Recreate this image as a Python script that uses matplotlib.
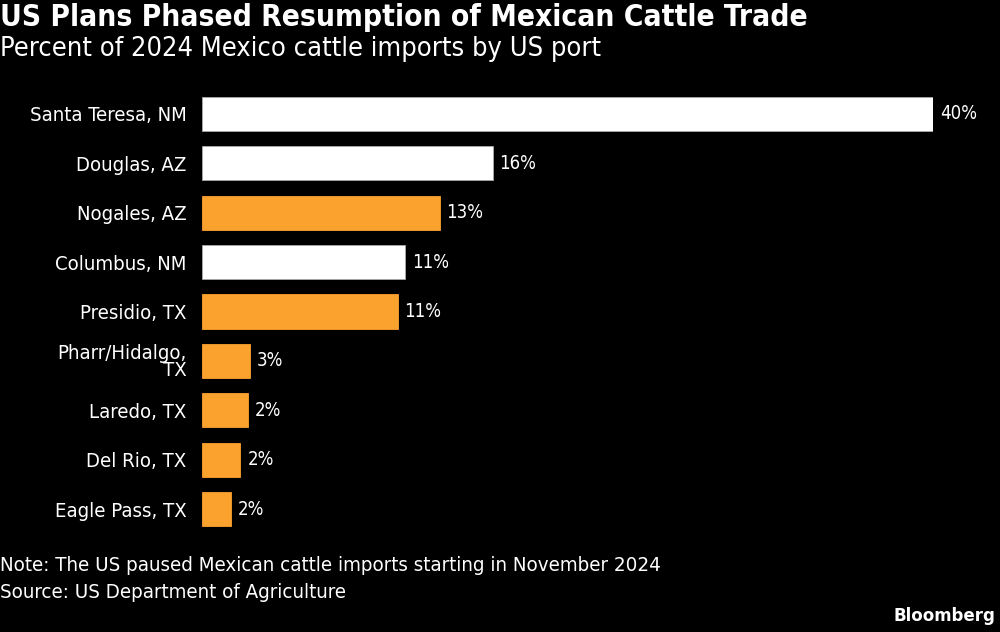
import matplotlib
matplotlib.use("Agg")
import matplotlib.pyplot as plt

categories = ["Santa Teresa, NM", "Douglas, AZ", "Nogales, AZ", "Columbus, NM",
              "Presidio, TX", "Pharr/Hidalgo,\nTX", "Laredo, TX", "Del Rio, TX", "Eagle Pass, TX"]
values = [40.0, 15.9, 13.0, 11.1, 10.7, 2.6, 2.5, 2.1, 1.6]
labels = ["40%", "16%", "13%", "11%", "11%", "3%", "2%", "2%", "2%"]
resuming = [False, False, True, False, True, True, True, True, True]

ORANGE = "#FBA12E"
WHITE = "#FFFFFF"
FONT = ["DejaVu Sans"]
plt.rcParams['font.family'] = FONT

fig = plt.figure(figsize=(10, 6.32), dpi=100, facecolor="black")
ax = fig.add_axes([0.202, 0.1555, 0.731, 0.7032], facecolor="black")

colors = [ORANGE if r else WHITE for r in resuming]
edges = [ORANGE if r else "#AAAAAA" for r in resuming]
ypos = list(range(len(categories)))
ax.barh(ypos, values, height=0.69, color=colors, edgecolor=edges, linewidth=0.6)
ax.set_ylim(len(categories) - 0.5, -0.5)
ax.set_xlim(0, 40)
for s in ax.spines.values():
    s.set_visible(False)
ax.set_xticks([])
ax.set_yticks(ypos)
ax.set_yticklabels(categories, color="white", fontsize=14.6, fontstretch="condensed",
                   linespacing=0.9)
ax.tick_params(axis="y", length=0, pad=11)
for lab in ax.get_yticklabels():
    lab.set_horizontalalignment("right")

for y, v, t in zip(ypos, values, labels):
    ax.annotate(t, (v, y), xytext=(5, 0), textcoords="offset points",
                va="center", ha="left", color="white", fontsize=13.4, fontstretch="condensed",
                annotation_clip=False)

fig.text(0.0, 0.972, "US Plans Phased Resumption of Mexican Cattle Trade", color="white",
         fontsize=21.4, fontweight="bold", va="center", ha="left", fontstretch="condensed")
fig.text(0.0, 0.923, "Percent of 2024 Mexico cattle imports by US port", color="white",
         fontsize=19.5, va="center", ha="left", fontstretch="condensed")
fig.text(0.0, 0.105, "Note: The US paused Mexican cattle imports starting in November 2024",
         color="white", fontsize=14.7, va="center", ha="left", fontstretch="condensed")
fig.text(0.0, 0.063, "Source: US Department of Agriculture",
         color="white", fontsize=14.7, va="center", ha="left", fontstretch="condensed")
fig.text(0.995, 0.025, "Bloomberg", color="white", fontsize=13.3, fontweight="bold",
         va="center", ha="right", fontstretch="condensed")

fig.savefig("out.png", dpi=100, facecolor="black")
